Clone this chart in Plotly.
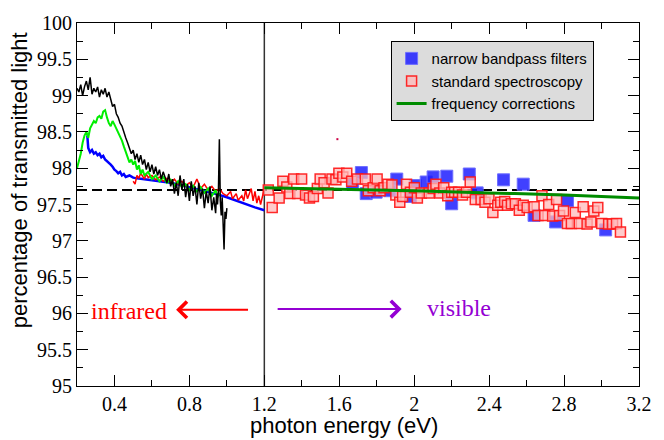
import plotly.graph_objects as go

# ---------------- data ----------------
black_x = [0.20, 0.21, 0.22, 0.23, 0.24, 0.25, 0.26, 0.27, 0.28, 0.29, 0.30, 0.31, 0.32, 0.33, 0.34, 0.35,
           0.36, 0.37, 0.38, 0.39, 0.40, 0.41, 0.42, 0.43, 0.44, 0.45, 0.46, 0.47, 0.48, 0.49, 0.50, 0.51,
           0.52, 0.53, 0.54, 0.55, 0.56, 0.57, 0.58, 0.59, 0.60, 0.61, 0.62, 0.63, 0.64, 0.65, 0.66, 0.67,
           0.68, 0.69, 0.70, 0.71, 0.72, 0.73, 0.74, 0.75, 0.76, 0.77, 0.78, 0.79, 0.80, 0.81, 0.82, 0.83,
           0.84, 0.85, 0.86, 0.87, 0.88, 0.89, 0.90, 0.91, 0.92, 0.93, 0.94, 0.945, 0.95, 0.955, 0.96,
           0.965, 0.97, 0.975, 0.98, 0.985, 0.99, 0.995, 1.00]
black_y = [99.10, 99.05, 99.15, 99.00, 99.12, 99.20, 99.08, 99.25, 99.02, 99.10, 99.05, 99.12, 98.98, 99.08,
           99.02, 99.10, 98.98, 99.05, 98.95, 98.85, 98.88, 98.75, 98.70, 98.62, 98.58, 98.48, 98.42, 98.35,
           98.28, 98.20, 98.25, 98.12, 98.20, 98.08, 98.18, 98.05, 98.12, 97.98, 98.08, 97.95, 98.05, 97.92,
           98.02, 97.90, 97.98, 97.85, 97.95, 97.88, 97.80, 97.92, 97.75, 97.85, 97.65, 97.80, 97.62, 97.90,
           97.70, 97.85, 97.60, 97.78, 97.55, 97.82, 97.62, 97.75, 97.50, 97.80, 97.58, 97.72, 97.45, 97.68,
           97.52, 97.75, 97.42, 97.60, 97.38, 97.65, 97.50, 97.70, 98.40, 97.55, 97.35, 97.60, 97.20, 96.88,
           97.40, 97.30, 97.45]

green_x = [0.20, 0.21, 0.22, 0.23, 0.24, 0.25, 0.26, 0.27, 0.28, 0.29, 0.30, 0.31, 0.32, 0.33, 0.34, 0.35,
           0.36, 0.37, 0.38, 0.39, 0.40, 0.41, 0.42, 0.43, 0.44, 0.45, 0.46, 0.47, 0.48, 0.49, 0.50, 0.51,
           0.52, 0.53, 0.54, 0.55, 0.56, 0.58, 0.60, 0.62, 0.64, 0.66, 0.68, 0.70, 0.72, 0.74, 0.76, 0.78,
           0.80, 0.82, 0.84, 0.86, 0.88, 0.90, 0.92, 0.94, 0.95, 0.96]
green_y = [98.00, 98.10, 98.20, 98.35, 98.45, 98.50, 98.42, 98.55, 98.60, 98.65, 98.62, 98.70, 98.72, 98.68,
           98.78, 98.80, 98.70, 98.62, 98.58, 98.65, 98.60, 98.55, 98.48, 98.45, 98.38, 98.30, 98.22, 98.15,
           98.08, 98.12, 98.05, 98.10, 97.98, 98.04, 97.92, 97.98, 97.90, 97.95, 97.85, 97.90, 97.82, 97.88,
           97.80, 97.84, 97.76, 97.82, 97.74, 97.78, 97.70, 97.76, 97.68, 97.74, 97.66, 97.72, 97.62, 97.70,
           97.60, 97.66]

blue_x = [0.255, 0.26, 0.27, 0.28, 0.29, 0.30, 0.31, 0.32, 0.33, 0.34, 0.35, 0.36, 0.37, 0.38, 0.39, 0.40,
          0.41, 0.42, 0.43, 0.44, 0.45, 0.46, 0.48, 0.50, 0.52, 0.55, 0.60, 0.65, 0.70, 0.75, 0.80, 0.85,
          0.90, 0.95, 1.00, 1.05, 1.10, 1.15, 1.20]
blue_y = [98.45, 98.28, 98.22, 98.25, 98.20, 98.22, 98.18, 98.20, 98.15, 98.17, 98.12, 98.10, 98.08, 98.05,
          98.02, 97.98, 97.96, 97.93, 97.95, 97.90, 97.92, 97.88, 97.90, 97.87, 97.86, 97.85, 97.83, 97.82,
          97.80, 97.77, 97.74, 97.71, 97.68, 97.64, 97.60, 97.55, 97.50, 97.46, 97.42]

red_x = [0.50, 0.51, 0.52, 0.53, 0.54, 0.55, 0.56, 0.57, 0.58, 0.60, 0.62, 0.64, 0.66, 0.68, 0.70, 0.72,
         0.74, 0.76, 0.78, 0.80, 0.82, 0.84, 0.86, 0.88, 0.90, 0.92, 0.94, 0.96, 0.98, 1.00, 1.02, 1.03,
         1.05, 1.06, 1.08, 1.09, 1.10, 1.11, 1.12, 1.13, 1.14, 1.15, 1.16, 1.17, 1.18, 1.19, 1.20]
red_y = [97.82, 97.78, 97.90, 97.86, 97.93, 97.88, 97.85, 97.92, 97.87, 97.90, 97.84, 97.88, 97.82, 97.86,
         97.80, 97.85, 97.78, 97.82, 97.76, 97.80, 97.74, 97.85, 97.72, 97.78, 97.70, 97.75, 97.68, 97.72,
         97.65, 97.62, 97.68, 97.58, 97.65, 97.56, 97.62, 97.55, 97.70, 97.58, 97.66, 97.72, 97.55, 97.68,
         97.52, 97.62, 97.50, 97.60, 97.72]

narrow_x = [1.671, 1.718, 1.744, 1.797, 1.870, 1.907, 1.980, 2.006, 2.064, 2.101, 2.174, 2.200, 2.294, 2.336,
            2.477, 2.582, 2.640, 2.755, 2.818, 3.022]
narrow_y = [97.80, 97.94, 97.65, 97.67, 97.69, 97.85, 97.61, 97.76, 97.81, 97.88, 97.89, 97.51, 97.92, 97.66,
            97.84, 97.78, 97.35, 97.26, 97.55, 97.15]

std_x = [1.221, 1.242, 1.279, 1.299, 1.320, 1.336, 1.357, 1.378, 1.399, 1.420, 1.441, 1.462, 1.483, 1.498,
         1.519, 1.540, 1.561, 1.582, 1.598, 1.619, 1.640, 1.666, 1.697, 1.739, 1.755, 1.781, 1.802, 1.818,
         1.839, 1.860, 1.881, 1.902, 1.923, 1.938, 1.959, 1.980, 2.001, 2.017, 2.038, 2.080, 2.101, 2.116,
         2.137, 2.158, 2.179, 2.200, 2.216, 2.237, 2.258, 2.279, 2.299, 2.326, 2.357, 2.378, 2.399, 2.420,
         2.446, 2.462, 2.483, 2.498, 2.519, 2.540, 2.561, 2.582, 2.603, 2.640, 2.661, 2.682, 2.697, 2.718,
         2.739, 2.760, 2.776, 2.797, 2.818, 2.839, 2.860, 2.881, 2.902, 2.923, 2.943, 2.959, 2.980, 3.001,
         3.038, 3.059, 3.080, 3.101]
std_y = [97.70, 97.46, 97.59, 97.82, 97.74, 97.65, 97.85, 97.65, 97.85, 97.63, 97.59, 97.61, 97.72, 97.85,
         97.80, 97.66, 97.85, 97.84, 97.93, 97.88, 97.93, 97.82, 97.85, 97.85, 97.69, 97.73, 97.85, 97.69,
         97.73, 97.78, 97.77, 97.63, 97.53, 97.61, 97.78, 97.67, 97.73, 97.59, 97.66, 97.66, 97.72, 97.78,
         97.66, 97.73, 97.62, 97.67, 97.67, 97.67, 97.63, 97.67, 97.81, 97.57, 97.57, 97.53, 97.58, 97.39,
         97.49, 97.53, 97.54, 97.49, 97.51, 97.51, 97.42, 97.49, 97.46, 97.47, 97.35, 97.62, 97.35, 97.50,
         97.34, 97.57, 97.35, 97.41, 97.24, 97.24, 97.39, 97.24, 97.47, 97.23, 97.26, 97.41, 97.46, 97.24,
         97.23, 97.23, 97.24, 97.12]

freq_x = [1.2, 1.6, 2.0, 2.4, 2.8, 3.2]
freq_y = [97.73, 97.71, 97.69, 97.66, 97.63, 97.59]

ref_x = [0.2, 3.2]
ref_y = [97.7, 97.7]

divider_x = [1.2, 1.2]
divider_y = [95, 100]

stray_x = [1.59]
stray_y = [98.4]

# ---------------- figure ----------------
fig = go.Figure()

fig.add_trace(go.Scatter(x=divider_x, y=divider_y, mode="lines",
                         line=dict(color="#333333", width=1.5), showlegend=False, hoverinfo="skip"))
fig.add_trace(go.Scatter(x=ref_x, y=ref_y, mode="lines",
                         line=dict(color="black", width=2, dash="10px,5px"), showlegend=False))
fig.add_trace(go.Scatter(x=blue_x, y=blue_y, mode="lines",
                         line=dict(color="#0000ff", width=2.5), showlegend=False))
fig.add_trace(go.Scatter(x=red_x, y=red_y, mode="lines",
                         line=dict(color="#ff0000", width=1.5), showlegend=False))
fig.add_trace(go.Scatter(x=green_x, y=green_y, mode="lines",
                         line=dict(color="#00ee00", width=2), showlegend=False))
fig.add_trace(go.Scatter(x=black_x, y=black_y, mode="lines",
                         line=dict(color="black", width=1.5), showlegend=False))
fig.add_trace(go.Scatter(x=narrow_x, y=narrow_y, mode="markers", name="narrow bandpass filters",
                         marker=dict(symbol="square", size=12, color="rgba(30,30,255,0.85)",
                                     line=dict(color="rgba(110,110,255,1)", width=1))))
fig.add_trace(go.Scatter(x=std_x, y=std_y, mode="markers", name="standard spectroscopy",
                         marker=dict(symbol="square", size=10, color="rgba(255,185,185,0.75)",
                                     line=dict(color="rgba(255,20,20,0.9)", width=1.5))))
fig.add_trace(go.Scatter(x=freq_x, y=freq_y, mode="lines", name="frequency corrections",
                         line=dict(color="#008c00", width=3, shape="spline")))
fig.add_trace(go.Scatter(x=stray_x, y=stray_y, mode="markers",
                         marker=dict(symbol="square", size=2, color="#cc0044"), showlegend=False))

tickfont = dict(family="Liberation Serif", size=20, color="black")
fig.update_xaxes(range=[0.2, 3.2], dtick=0.4, tick0=0, ticks="inside", ticklen=11, tickwidth=1,
                 tickcolor="black", showline=True, linecolor="black", linewidth=1, mirror="ticks",
                 showgrid=False, zeroline=False, tickfont=tickfont,
                 minor=dict(dtick=0.2, tick0=0, ticks="inside", ticklen=6, tickcolor="black", showgrid=False))
fig.update_yaxes(range=[95, 100], dtick=0.5, tick0=95, ticks="inside", ticklen=11, tickwidth=1,
                 tickcolor="black", showline=True, linecolor="black", linewidth=1, mirror="ticks",
                 showgrid=False, zeroline=False, tickfont=tickfont,
                 minor=dict(dtick=0.25, tick0=95, ticks="inside", ticklen=6, tickcolor="black", showgrid=False))

annotations = [
    dict(text="photon energy (eV)", xref="paper", yref="paper", x=0.475, y=-0.11, xanchor="center",
         yanchor="middle", showarrow=False, font=dict(family="Liberation Sans", size=22, color="black")),
    dict(text="percentage of transmitted light", xref="paper", yref="paper", x=-0.103, y=0.567,
         xanchor="center", yanchor="middle", textangle=-90, showarrow=False,
         font=dict(family="Liberation Sans", size=22, color="black")),
    dict(text="infrared", x=0.478, y=96.03, xref="x", yref="y", showarrow=False,
         font=dict(family="Liberation Serif", size=24, color="#ff0000")),
    dict(text="visible", x=2.237, y=96.08, xref="x", yref="y", showarrow=False,
         font=dict(family="Liberation Serif", size=24, color="#9400d3")),
    dict(x=0.729, y=96.05, ax=1.121, ay=96.05, xref="x", yref="y", axref="x", ayref="y", text="",
         showarrow=True, arrowhead=4, arrowsize=1.6, arrowwidth=2, arrowcolor="#ff0000"),
    dict(x=1.933, y=96.06, ax=1.263, ay=96.06, xref="x", yref="y", axref="x", ayref="y", text="",
         showarrow=True, arrowhead=4, arrowsize=1.6, arrowwidth=2, arrowcolor="#9400d3"),
]

fig.update_layout(
    width=664, height=440,
    margin=dict(l=77, r=14, t=14, b=54),
    plot_bgcolor="white", paper_bgcolor="white",
    annotations=annotations,
    legend=dict(x=0.558, y=0.95, xanchor="left", yanchor="top", bgcolor="#dcdcdc",
                bordercolor="black", borderwidth=1,
                font=dict(family="Liberation Sans", size=15, color="black"),
                tracegroupgap=0, itemwidth=30),
)

fig.write_html("out.html")
